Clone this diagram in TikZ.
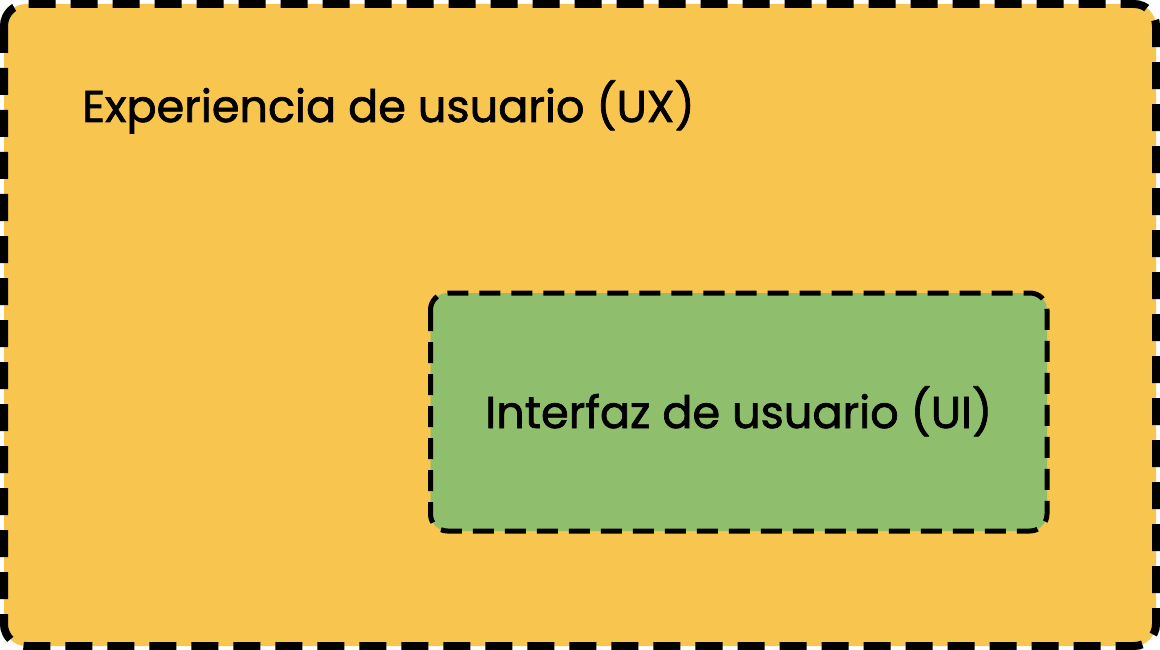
\documentclass[tikz,border=0pt]{standalone}
\usepackage{fontspec}
\setmainfont{Poppins}[FakeBold=1.6]
\definecolor{uxfill}{HTML}{F8C54F}
\definecolor{uifill}{HTML}{8FBE6C}
\tikzset{
  uxbox/.style={draw=black, fill=uxfill, line width=8pt, dash pattern=on 27pt off 15pt, rounded corners=22pt},
  uibox/.style={draw=black, fill=uifill, line width=5pt, dash pattern=on 21pt off 11pt, rounded corners=17pt},
  lbl/.style={font=\fontsize{44.6}{50}\selectfont, text=black, inner sep=0pt}
}
\begin{document}
\begin{tikzpicture}[x=1pt,y=-1pt]
  \useasboundingbox (0,0) rectangle (1160,650);
  \begin{scope}
    \clip (0,0) rectangle (1160,650);
    \draw[uxbox] (4,4) rectangle (1156,646);
  \end{scope}
  \node[lbl, anchor=base west] (ux) at (82,122) {Experiencia de usuario (UX)};
  \draw[uibox] (430.5,293) rectangle (1047,531);
  \node[lbl, anchor=base] (ui) at (738.75,428) {Interfaz de usuario (UI)};
\end{tikzpicture}
\end{document}
